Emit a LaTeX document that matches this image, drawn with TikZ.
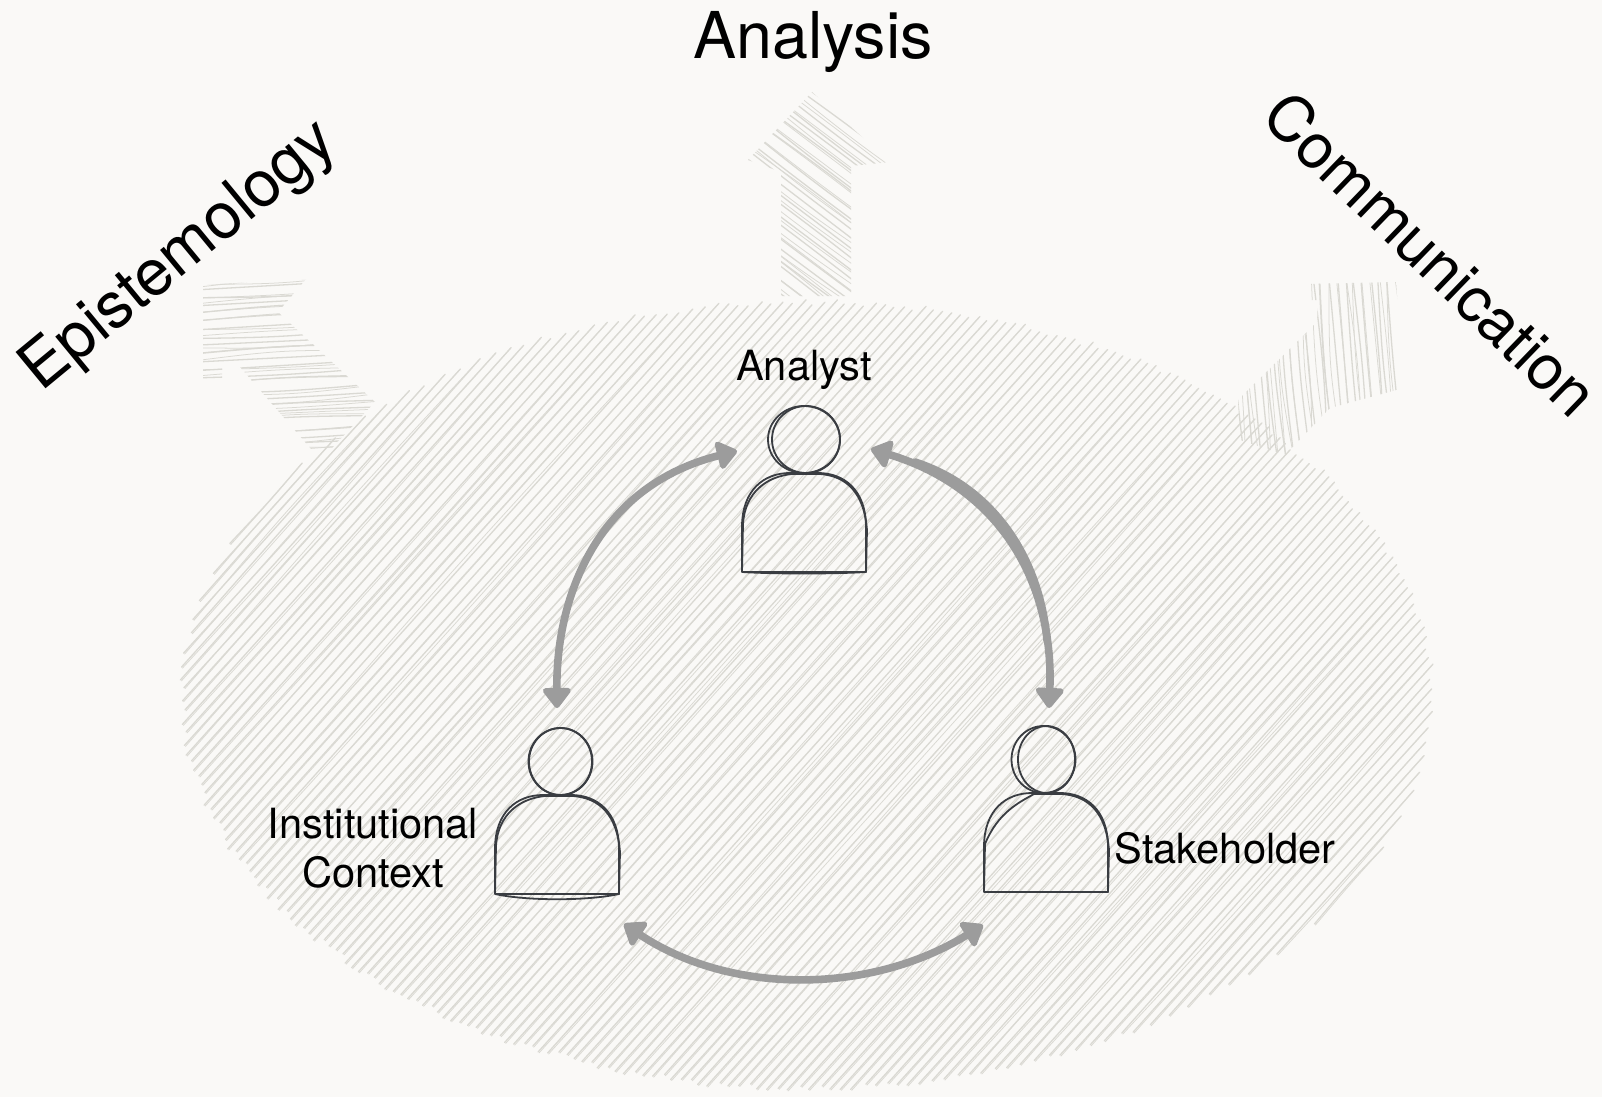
\documentclass[tikz,border=0pt]{standalone}
\usepackage{fontspec}
\setmainfont{TeX Gyre Heros}
\usetikzlibrary{arrows.meta}
\definecolor{paper}{HTML}{FAF9F7}
\definecolor{hatchc}{HTML}{DAD9D3}
\definecolor{ink}{HTML}{3A3D42}
\definecolor{linkc}{HTML}{9C9C9C}
\tikzset{
  hatchline/.style={draw=hatchc,line width=0.65pt,line cap=round},
  thinhatch/.style={draw=hatchc,line width=0.38pt,line cap=round},
  inkline/.style={draw=ink,line width=0.9pt,line join=round},
  linkline/.style={draw=linkc,line width=3.8pt,line cap=round,
    {Triangle[round,length=11pt,width=16pt]}-{Triangle[round,length=11pt,width=16pt]}},
  linkextra/.style={draw=linkc,line width=3.5pt,line cap=round},
  bigtext/.style={font=\fontsize{32.3}{36}\selectfont,text=black,inner sep=0pt},
  smalltext/.style={font=\fontsize{20.8}{24.5}\selectfont,text=black,inner sep=0pt,align=center},
  anchorbox/.style={inner sep=0pt,minimum width=62pt,minimum height=85pt}
}
% hatched arrow: polygon, centre, angle, half extent count, spacing, half length
\newcommand{\hatchshape}[6]{%
  \begin{scope}
    \clip #1;
    \begin{scope}[shift={(#2)},rotate=#3]
      \foreach \k in {-#4,...,#4}{%
        \pgfmathsetmacro\ya{\k*#5+1.2*rand}%
        \pgfmathsetmacro\yb{\k*#5+1.2*rand}%
        \pgfmathsetmacro\ym{\k*#5+5*rand}%
        \draw[hatchline] (-#6,\ya) .. controls (0,\ym) .. (#6,\yb);
        \pgfmathsetmacro\yn{\k*#5+9*rand}%
        \draw[thinhatch] (-#6,\yb) .. controls (0,\yn) .. (#6,\ya);
      }
    \end{scope}
  \end{scope}}
% person: name, bottom-centre x, y, head 1 dx, rx, head 2 dx, rx, body shift, bottom bulge
\newcommand{\sketchperson}[9]{%
  \node[anchorbox] (#1) at (#2,#3-83) {};
  \begin{scope}[shift={(#2,#3)}]
    \draw[inkline] (#4,-132.5) circle[x radius=#5,y radius=33.5];
    \draw[inkline] (#6,-132.5) circle[x radius=#7,y radius=33.5];
    \draw[inkline] (-62,0) -- (-62,-45) .. controls (-62,-82) and (-40,-99) .. (-14,-99)
       -- (14,-99) .. controls (40,-99) and (62,-82) .. (62,-45) -- (62,0) -- cycle;
    \draw[inkline] (-62,0) -- (-61,-48) .. controls (-60+#8,-80) and (-38+#8,-96+0.5*#8) .. (-12,-98)
       -- (16,-98) .. controls (42,-96) and (60,-80) .. (63,-42) -- (62,0)
       .. controls (30,#9) and (-30,#9) .. (-62,0);
  \end{scope}}
\begin{document}
\begin{tikzpicture}[x=0.5pt,y=-0.5pt]
\useasboundingbox (0,0) rectangle (1602,1097);
\fill[paper] (0,0) rectangle (1602,1097);
\pgfmathsetseed{4242}
% hatched arrows
\hatchshape{(781,296) -- (781,172) -- (748,160) -- (812,92) -- (890,162) -- (851,166) -- (851,296) -- cycle}{816,190}{-37}{15}{8.5}{150}
\hatchshape{(203,285) -- (306,279) -- (278,312) -- (375,402) -- (330,450) -- (312,450) -- (240,367) -- (222,367) -- (222,380) -- (203,380) -- cycle}{285,365}{3}{11}{8}{110}
\hatchshape{(1305,284) -- (1396,282) -- (1404,388) -- (1330,408) -- (1285,455) -- (1240,440) -- (1238,400) -- (1317,322) -- (1318,300) -- (1305,300) -- cycle}{1320,370}{-85}{13}{8.3}{100}
% hatched blob
\foreach \i in {-68,...,68}{%
  \pgfmathsetmacro\s{\i*0.078}%
  \pgfmathsetmacro\B{2*\s*(-0.01947)}%
  \pgfmathsetmacro\C{\s*\s*0.04312-1}%
  \pgfmathsetmacro\D{\B*\B-4*0.04721*\C}%
  \ifdim\D pt>0.0005pt
    \pgfmathsetmacro\R{sqrt(\D)}%
    \pgfmathsetmacro\ta{(-\B-\R)/(2*0.04721)+0.04*rand}%
    \pgfmathsetmacro\tb{(-\B+\R)/(2*0.04721)+0.04*rand}%
    \pgfmathsetmacro\xa{807+100*(\ta*0.669+\s*0.743)}%
    \pgfmathsetmacro\ya{695+100*(-\ta*0.743+\s*0.669)}%
    \pgfmathsetmacro\xb{807+100*(\tb*0.669+\s*0.743)}%
    \pgfmathsetmacro\yb{695+100*(-\tb*0.743+\s*0.669)}%
    \pgfmathsetmacro\xm{0.5*(\xa+\xb)+2*rand}%
    \pgfmathsetmacro\ym{0.5*(\ya+\yb)+2*rand}%
    \draw[hatchline] (\xa,\ya) .. controls (\xm,\ym) .. (\xb,\yb);
    \pgfmathsetmacro\xn{0.5*(\xa+\xb)+3.5*rand}%
    \pgfmathsetmacro\yn{0.5*(\ya+\yb)+3.5*rand}%
    \draw[thinhatch] (\xa+1,\ya+1) .. controls (\xn,\yn) .. (\xb-1,\yb+1);
  \fi
}
% people
\sketchperson{analyst}{804}{572}{0}{36}{2}{34}{1}{2}
\sketchperson{context}{557}{894}{3.5}{32}{3.5}{31.5}{1}{7}
\sketchperson{stakeholder}{1046}{892}{-2.5}{32}{0.5}{28.5}{12}{0}
% connector ends
\coordinate (analystL) at (737,451);
\coordinate (analystR) at (871,449);
\coordinate (contextT) at (557,708);
\coordinate (stakeT) at (1049,708);
\coordinate (contextB) at (624,924);
\coordinate (stakeB) at (983,925);
\draw[linkline] (contextT) .. controls (556,590) and (602,485) .. (analystL);
\draw[linkextra,line width=3.8pt] (1047,640) .. controls (1040,560) and (995,488) .. (915,462);
\draw[linkline] (stakeT) .. controls (1054,590) and (1006,490) .. (analystR);
\draw[linkline] (contextB) .. controls (730,995) and (870,995) .. (stakeB);
% labels
\node[bigtext] (tAnalysis) at (813,42) {Analysis};
\node[bigtext,rotate=39.5] (tEpist) at (180,257) {Epistemology};
\node[bigtext,font=\fontsize{31.2}{36}\selectfont,rotate=-44] (tComm) at (1431,254) {Communication};
\node[smalltext] (lAnalyst) at (804,370) {Analyst};
\node[smalltext] (lContext) at (373,848) {Institutional\\Context};
\node[smalltext] (lStake) at (1225,848) {Stakeholder};
\end{tikzpicture}
\end{document}
